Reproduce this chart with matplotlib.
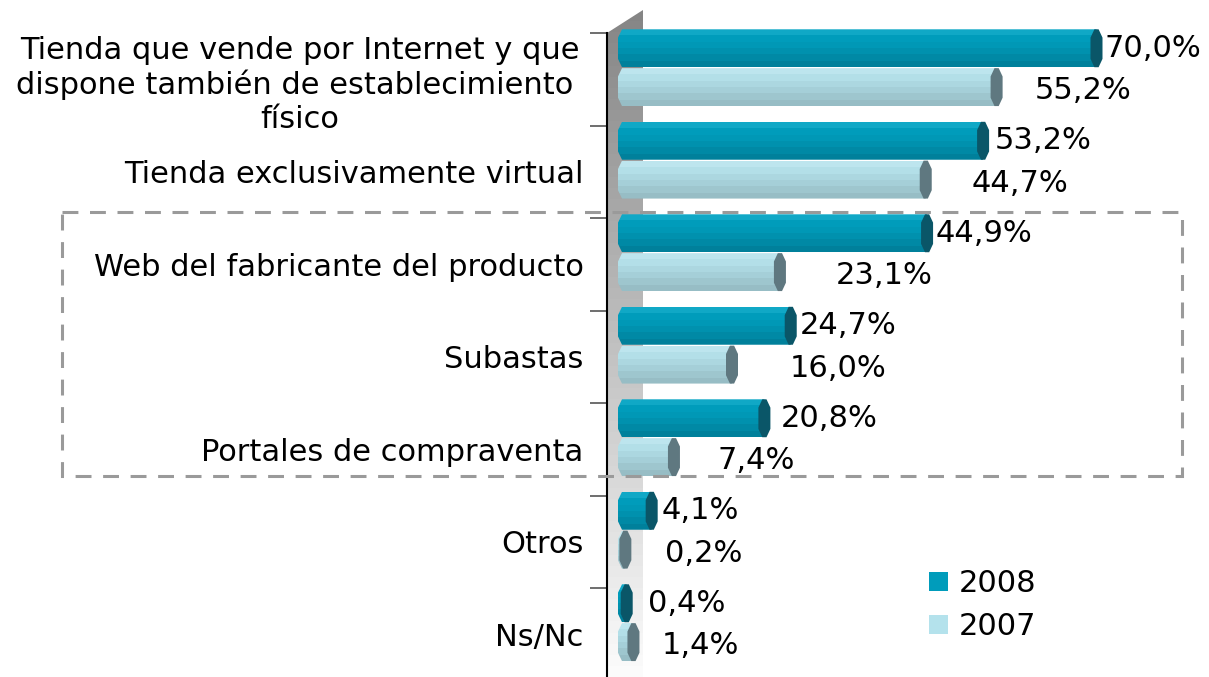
import numpy as np
import matplotlib
matplotlib.use("Agg")
import matplotlib.pyplot as plt
from matplotlib.patches import Polygon, Rectangle, Patch

categories = [
    "Tienda que vende por Internet y que\ndispone también de establecimiento \nfísico",
    "Tienda exclusivamente virtual",
    "Web del fabricante del producto",
    "Subastas",
    "Portales de compraventa",
    "Otros",
    "Ns/Nc",
]
vals_2008 = [70.0, 53.2, 44.9, 24.7, 20.8, 4.1, 0.4]
vals_2007 = [55.2, 44.7, 23.1, 16.0, 7.4, 0.2, 1.4]
series_names = ["2008", "2007"]
# label horizontal nudges (pixels from bar end)
nudge_2008 = [8, 12, 8, 9, 16, 10, 21]
nudge_2007 = [38, 46, 56, 58, 44, 40, 28]

PX = 6.75          # pixels per percent
FS = 22

fig = plt.figure(figsize=(12.09, 6.77), dpi=100)
ax = fig.add_axes([607 / 1209, 0, 1 - 607 / 1209, 1])
xmin, xmax = (607 - 624) / PX, (1209 - 624) / PX
ymin, ymax = -33 / 92.5, (677 - 33) / 92.5
ax.set_xlim(xmin, xmax)
ax.set_ylim(ymax, ymin)

def hexcol(h):
    h = h.lstrip("#")
    return [int(h[i:i + 2], 16) / 255 for i in (0, 2, 4)]

def grad_fill(poly, x0, x1, ytop, ybot, colors, z):
    arr = np.array([hexcol(c) for c in colors])[:, None, :]
    im = ax.imshow(arr, extent=(x0, x1, ybot, ytop), origin="upper",
                   aspect="auto", interpolation="nearest", zorder=z)
    im.set_clip_path(poly)

# back wall with gradient
wx0, wx1 = xmin, (643 - 624) / PX
wall = Polygon([(wx0, ymax), (wx0, 0), (wx1, -23 / 92.5), (wx1, ymax)],
               closed=True, facecolor="none", edgecolor="none", zorder=1)
ax.add_patch(wall)
wall_cols = [matplotlib.colors.to_hex(c) for c in
             np.linspace(hexcol("#858585"), hexcol("#fbfbfb"), 60)]
grad_fill(wall, wx0, wx1, -23 / 92.5, ymax, wall_cols, 1)

col_2008 = ["#10a8c6", "#009cbb", "#0098b6", "#0091ae", "#0089a5", "#00809b"]
col_2007 = ["#bde5ee", "#b3dfe8", "#acd7e0", "#a5cfd8", "#9ec6ce", "#97bdc5"]
cap_2008 = "#0a5668"
cap_2007 = "#5f7880"

H = 0.41
x_start = (618 - 624) / PX
cw = 6 / PX
ch = 4 / PX

def draw_bar(v, yc, cols, capc):
    top, bot = yc - H / 2, yc + H / 2
    q = H * 0.22
    body = Polygon([(x_start + ch, top), (v, top), (v, bot), (x_start + ch, bot),
                    (x_start, bot - q), (x_start, top + q)],
                   closed=True, facecolor="none", edgecolor="none", zorder=3)
    ax.add_patch(body)
    grad_fill(body, x_start, v, top, bot, cols, 3)
    cap = Polygon([(v - 0.35 * cw, top), (v + 0.35 * cw, top), (v + cw, top + q),
                   (v + cw, bot - q), (v + 0.35 * cw, bot), (v - 0.35 * cw, bot),
                   (v - cw, bot - q), (v - cw, top + q)],
                  closed=True, facecolor=capc, edgecolor="none", zorder=4)
    ax.add_patch(cap)

for i, (a, b) in enumerate(zip(vals_2008, vals_2007)):
    y8 = i + 0.165
    y7 = i + 0.585
    draw_bar(a, y8, col_2008, cap_2008)
    draw_bar(b, y7, col_2007, cap_2007)
    ax.annotate(f"{a:.1f}%".replace(".", ","), (a, y8), xytext=(nudge_2008[i] * 0.72, 0),
                textcoords="offset points", ha="left", va="center", fontsize=FS,
                color="black", zorder=6)
    ax.annotate(f"{b:.1f}%".replace(".", ","), (b, y7 + 0.04), xytext=(nudge_2007[i] * 0.72, 0),
                textcoords="offset points", ha="left", va="center", fontsize=FS,
                color="black", zorder=6)

# dashed highlight box
box = Rectangle(((62 - 624) / PX, (212 - 33) / 92.5), (1182 - 62) / PX, (476 - 212) / 92.5,
                fill=False, edgecolor="#9a9a9a", linewidth=2.2,
                linestyle=(0, (5.2, 3.8)), clip_on=False, zorder=5)
ax.add_patch(box)

# axes styling
for s in ["top", "right", "bottom"]:
    ax.spines[s].set_visible(False)
ax.spines["left"].set_color("black")
ax.spines["left"].set_linewidth(1.5)
ax.spines["left"].set_bounds(0, ymax)
ax.set_xticks([])
ax.set_yticks(np.arange(0, len(categories)))
ax.set_yticklabels([])
ax.tick_params(axis="y", which="major", length=12, width=1.2, color="#555555")
ax.set_yticks(np.arange(len(categories)) + 0.5, minor=True)
ax.set_yticklabels(categories, minor=True, fontsize=FS)
ax.tick_params(axis="y", which="minor", length=0, pad=17)
for lab in ax.get_yticklabels(minor=True):
    lab.set_multialignment("center")
    lab.set_linespacing(1.2)

handles = [Patch(facecolor="#009cbb", edgecolor="none"),
           Patch(facecolor="#b4e2ec", edgecolor="none")]
ax.legend(handles, series_names, loc="upper left",
          bbox_to_anchor=((908 - 607) / 602, 1 - 548 / 677), frameon=False,
          fontsize=FS, handlelength=0.6, handleheight=0.6,
          handletextpad=0.35, labelspacing=0.45, borderpad=0.2)

fig.savefig("out.png", dpi=100)
